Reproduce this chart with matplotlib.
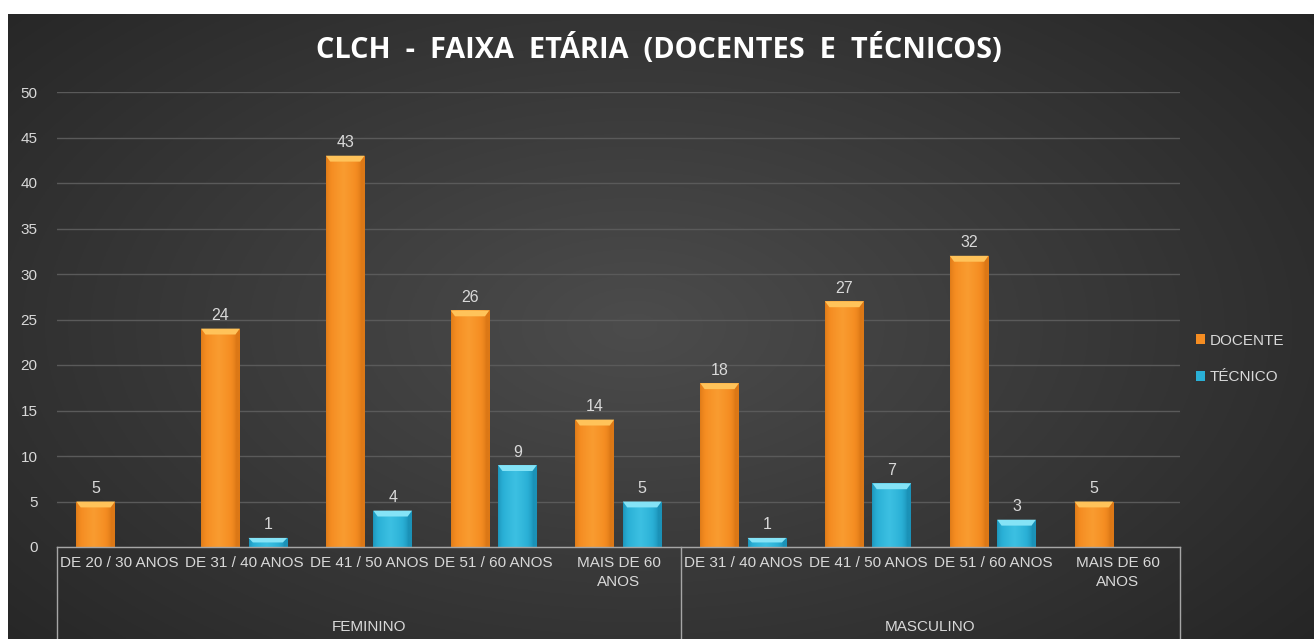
import numpy as np
import matplotlib
matplotlib.use('Agg')
import matplotlib.pyplot as plt
from matplotlib.patches import Patch, Polygon
from matplotlib import transforms
from matplotlib import font_manager

# data
categorias = ['DE 20 / 30 ANOS', 'DE 31 / 40 ANOS', 'DE 41 / 50 ANOS', 'DE 51 / 60 ANOS', 'MAIS DE 60\nANOS',
              'DE 31 / 40 ANOS', 'DE 41 / 50 ANOS', 'DE 51 / 60 ANOS', 'MAIS DE 60\nANOS']
grupos = ['FEMININO', 'MASCULINO']
grupo_tamanho = [5, 4]
docente = [5, 24, 43, 26, 14, 18, 27, 32, 5]
tecnico = [None, 1, 4, 9, 5, 1, 7, 3, None]

names = {f.name for f in font_manager.fontManager.ttflist}
narrow = 'Liberation Sans Narrow' if 'Liberation Sans Narrow' in names else 'DejaVu Sans Condensed'
if narrow not in names:
    narrow = 'Liberation Sans'
plt.rcParams['font.family'] = [narrow, 'DejaVu Sans']
txt = '#d9d9d9'

W, H = 1314, 639
fig = plt.figure(figsize=(W / 100, H / 100), dpi=100, facecolor='white')

# fundo com gradiente radial
bg = fig.add_axes([8 / W, 0, 1 - 8 / W, 1 - 14 / H], zorder=-5)
yy, xx = np.mgrid[0:1:300j, 0:1:600j]
r = np.sqrt(((xx - 0.48) / 0.8) ** 2 + ((yy - 0.5) / 0.95) ** 2)
r = np.clip(r, 0, 1)
c0 = np.array([0x4c, 0x4c, 0x4c]) / 255
c1 = np.array([0x1e, 0x1e, 0x1e]) / 255
img = c0[None, None, :] * (1 - r[..., None]) + c1[None, None, :] * r[..., None]
bg.imshow(img, aspect='auto', extent=[0, 1, 0, 1])
bg.axis('off')

ax = fig.add_axes([57 / W, 1 - 547 / H, (1180 - 57) / W, (547 - 92) / H])
ax.set_facecolor('none')
x = np.arange(len(categorias))
bw = 0.31
off = 0.19

def draw_bars(xpos, vals, base, light, dark, top_c):
    cmap = matplotlib.colors.LinearSegmentedColormap.from_list('g', [dark, base, light])
    for xi, v in zip(xpos, vals):
        if v is None:
            continue
        b = ax.bar(xi, v, width=bw, color=base, zorder=3)[0]
        x0, w, h = b.get_x(), b.get_width(), b.get_height()
        grad = np.linspace(0, 1, 64)
        grad = np.clip(1 - np.abs(grad - 0.45) * 2.2, 0, 1) ** 0.6
        im = ax.imshow(grad[None, :], aspect='auto', cmap=cmap, vmin=0, vmax=1,
                       extent=[x0, x0 + w, 0, h], zorder=3.1)
        im.set_clip_path(b)
        dy = min(0.65, h * 0.5)
        dx = 0.035
        top = Polygon([[x0, h], [x0 + w, h], [x0 + w - dx, h - dy], [x0 + dx, h - dy]],
                      closed=True, facecolor=top_c, edgecolor='none', zorder=3.2)
        ax.add_patch(top)
        ax.text(xi, h + 0.6, str(v), ha='center', va='bottom', color=txt, fontsize=11.5, zorder=4)

draw_bars(x - off, docente, '#f58d22', '#f99c30', '#dc7816', '#ffc35a')
draw_bars(x + off, tecnico, '#2ab0d6', '#3cc0e2', '#1b92b8', '#85e3f6')

ax.set_xlim(-0.5, len(categorias) - 0.5)
ax.set_ylim(0, 50)
ax.set_yticks(range(0, 51, 5))
ax.yaxis.grid(True, color='#5a5a5a', linewidth=1)
ax.set_axisbelow(True)
for s in ax.spines.values():
    s.set_visible(False)
ax.tick_params(axis='y', length=0, colors=txt, labelsize=11, pad=14)
ax.tick_params(axis='x', length=0, labelbottom=False)

# caixa das categorias
tr = transforms.blended_transform_factory(ax.transData, fig.transFigure)
ax.axhline(0, color='#a6a6a6', linewidth=1, zorder=5, clip_on=False)
bordas = [-0.5]
for g in grupo_tamanho:
    bordas.append(bordas[-1] + g)
for bx in bordas:
    ax.plot([bx, bx], [1 - 547 / H, 0], color='#a6a6a6', linewidth=1, transform=tr, clip_on=False)
for i, c in enumerate(categorias):
    ax.text(i, 1 - 556 / H, c, ha='center', va='top', color=txt, fontsize=11,
            linespacing=1.45, transform=tr)
for gi, g in enumerate(grupos):
    ax.text((bordas[gi] + bordas[gi + 1]) / 2, 1 - 627 / H, g, ha='center', va='center',
            color=txt, fontsize=11, transform=tr)

# legenda
handles = [Patch(facecolor='#f58d22', label='DOCENTE'), Patch(facecolor='#2ab0d6', label='TÉCNICO')]
fig.legend(handles=handles, loc='center left', bbox_to_anchor=(1182 / W, 1 - 359 / H),
           frameon=False, fontsize=11, labelcolor=txt, handlelength=0.6, handleheight=0.6,
           handletextpad=0.3, labelspacing=1.5)

fig.text(659 / W, 1 - 50 / H, 'CLCH  -  FAIXA  ETÁRIA  (DOCENTES  E  TÉCNICOS)', ha='center', va='center',
         color='white', fontsize=20.8, fontweight='bold', family=['Open Sans', 'DejaVu Sans'])

fig.savefig('out.png', dpi=100, facecolor=fig.get_facecolor())
